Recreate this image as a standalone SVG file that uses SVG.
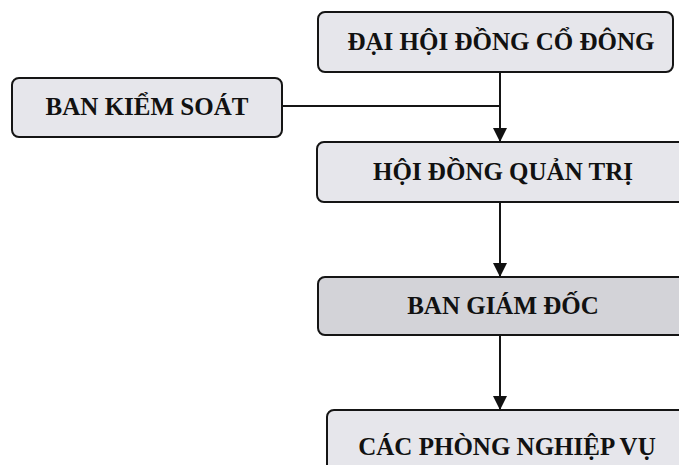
<svg xmlns="http://www.w3.org/2000/svg" width="679" height="465" viewBox="0 0 679 465">
<defs>
<style>
.box{fill:#e6e6eb;stroke:#151515;stroke-width:2}
.dark{fill:#d3d3d8}
.t{font-family:"Liberation Serif","Times New Roman",serif;font-weight:bold;font-size:25px;fill:#111;text-anchor:middle}
.ln{stroke:#151515;stroke-width:2;fill:none}
</style>
<marker id="ah" viewBox="0 0 14 14" refX="14" refY="7" markerWidth="14" markerHeight="14" markerUnits="userSpaceOnUse" orient="auto">
<path d="M0,0 L14,7 L0,14 Z" fill="#111"/>
</marker>
</defs>
<rect width="679" height="465" fill="#ffffff"/>
<g id="connectors">
<line class="ln" x1="500" y1="72" x2="500" y2="142" marker-end="url(#ah)"/>
<line class="ln" x1="282" y1="106" x2="500" y2="106"/>
<line class="ln" x1="500" y1="202" x2="500" y2="277" marker-end="url(#ah)"/>
<line class="ln" x1="500" y1="335" x2="500" y2="410" marker-end="url(#ah)"/>
</g>
<g id="dhdcd">
<rect class="box" x="318" y="12" width="355" height="60" rx="7"/>
<text class="t" x="501" y="50">ĐẠI HỘI ĐỒNG CỔ ĐÔNG</text>
</g>
<g id="bks">
<rect class="box" x="12" y="78" width="270" height="59" rx="7"/>
<text class="t" x="147" y="115">BAN KIỂM SOÁT</text>
</g>
<g id="hdqt">
<rect class="box" x="317" y="142" width="380" height="60" rx="7"/>
<text class="t" x="503" y="180">HỘI ĐỒNG QUẢN TRỊ</text>
</g>
<g id="bgd">
<rect class="box dark" x="318" y="277" width="380" height="58" rx="7"/>
<text class="t" x="503" y="314">BAN GIÁM ĐỐC</text>
</g>
<g id="cpnv">
<rect class="box" x="327" y="410" width="380" height="70" rx="7"/>
<text class="t" x="507" y="455">CÁC PHÒNG NGHIỆP VỤ</text>
</g>
</svg>
